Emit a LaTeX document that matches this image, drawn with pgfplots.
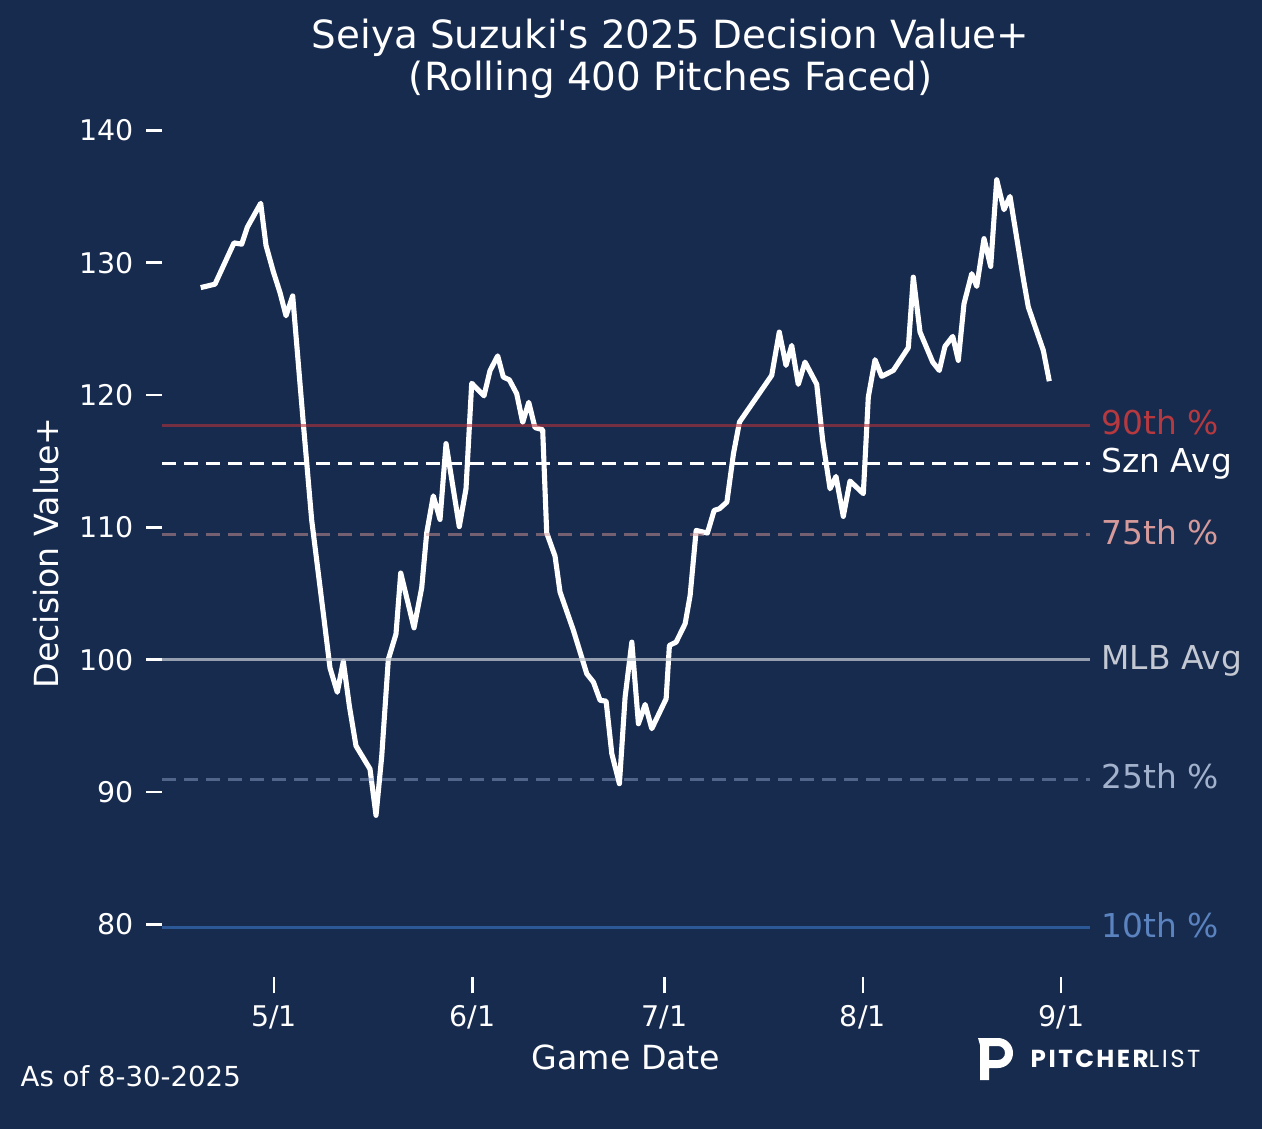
\documentclass[border=0pt]{standalone}
\usepackage{fontspec}
\setmainfont{DejaVu Sans}
\newfontfamily\pop[LetterSpace=10]{Poppins}
\usepackage{pgfplots}
\pgfplotsset{compat=1.18}
\definecolor{bg}{HTML}{172B4F}
\definecolor{c90}{HTML}{B4323C}
\definecolor{c90t}{HTML}{B5393F}
\definecolor{c75}{HTML}{D49696}
\definecolor{c75t}{HTML}{D69A9A}
\definecolor{cmlb}{HTML}{C0C6D0}
\definecolor{cmlbt}{HTML}{C3C8D2}
\definecolor{c25}{HTML}{8CA0C8}
\definecolor{c25t}{HTML}{A3B2CC}
\definecolor{c10}{HTML}{2C5898}
\definecolor{c10t}{HTML}{5A83BF}
\begin{document}
\begin{tikzpicture}
\fill[bg] (0,0) rectangle (126.2mm,112.9mm);
\begin{axis}[
  at={(16.2mm,15.17mm)}, anchor=south west,
  scale only axis, width=92.8mm, height=85.89mm,
  xmin=-17.5, xmax=127.5, ymin=76, ymax=140.907,
  axis line style={draw=none},
  xtick={0,31,61,92,123}, xticklabels={5/1,6/1,7/1,8/1,9/1},
  ytick={80,90,100,110,120,130,140},
  tick pos=left,
  tick align=outside, major tick length=1.6mm,
  tick style={white, line width=0.7pt},
  ticklabel style={font=\fontsize{8.1}{9.5}\selectfont, text=white},
  /pgf/number format/assume math mode=true,
  clip=false,
]
\addplot[white, line width=1.45pt, line join=round] coordinates {
(-11.45,128.12) (-9.22,128.38) (-6.25,131.50) (-5.05,131.40) (-4.17,132.68)
(-2.08,134.49) (-1.25,131.31) (-0.11,129.33) (0.94,127.74) (1.88,125.99)
(2.92,127.49) (4.58,117.86) (5.89,110.54) (7.70,103.52) (8.75,99.38)
(9.89,97.54) (10.83,99.87) (11.77,96.52) (12.81,93.49) (15.0,91.74)
(15.94,88.24) (16.83,92.69) (17.86,100.02) (19.06,101.94) (19.80,106.55)
(21.88,102.41) (23.08,105.44) (23.86,109.58) (24.89,112.38) (25.94,110.60)
(26.88,116.33) (28.95,110.06) (30.0,112.92) (30.89,120.89) (32.81,119.94)
(33.75,121.84) (34.95,122.96) (35.83,121.36) (36.77,121.15) (37.92,120.10)
(38.86,117.93) (39.80,119.45) (40.78,117.54) (41.98,117.38) (42.61,109.58)
(43.91,107.83) (44.69,105.12) (46.78,102.22) (48.87,98.94) (49.91,98.31)
(50.95,96.93) (51.89,96.87) (52.78,92.90) (53.97,90.63) (54.86,97.18)
(55.91,101.33) (56.94,95.16) (57.99,96.62) (59.03,94.79) (61.27,97.05)
(61.78,101.08) (62.83,101.33) (64.24,102.72) (65.02,104.86) (65.96,109.77)
(67.72,109.57) (68.77,111.28) (69.60,111.41) (70.76,111.91) (71.79,115.57)
(72.73,117.96) (77.77,121.49) (78.95,124.76) (80.0,122.24) (80.89,123.75)
(81.92,120.81) (82.97,122.49) (84.80,120.81) (85.73,116.57) (86.88,112.92)
(87.81,113.85) (88.95,110.83) (90.0,113.50) (92.08,112.55) (92.86,119.85)
(93.91,122.67) (94.95,121.41) (96.77,121.86) (99.11,123.58) (99.89,128.91)
(100.94,124.76) (102.92,122.49) (103.95,121.86) (104.84,123.68) (106.05,124.43)
(106.92,122.62) (107.81,126.90) (109.02,129.17) (109.80,128.21) (110.94,131.82)
(111.98,129.72) (112.92,136.27) (114.06,134.01) (115.0,135.01) (117.08,128.79)
(117.86,126.65) (120.20,123.38) (121.14,121.05)
};
\addplot[c90, opacity=0.6, line width=0.85pt] coordinates {(-17.5,117.71) (127.5,117.71)};
\addplot[white, line width=0.85pt, dash pattern=on 1.4mm off 0.8mm] coordinates {(-17.5,114.84) (127.5,114.84)};
\addplot[c75, opacity=0.5, line width=0.85pt, dash pattern=on 1.4mm off 0.8mm] coordinates {(-17.5,109.47) (127.5,109.47)};
\addplot[cmlb, opacity=0.75, line width=0.85pt] coordinates {(-17.5,100.02) (127.5,100.02)};
\addplot[c25, opacity=0.5, line width=0.85pt, dash pattern=on 1.4mm off 0.8mm] coordinates {(-17.5,90.96) (127.5,90.96)};
\addplot[c10, line width=0.85pt] coordinates {(-17.5,79.77) (127.5,79.77)};
\node[anchor=mid west, text=c90t, font=\fontsize{9.35}{11}\selectfont, inner sep=0pt] at (axis cs:129.2,117.71) {90th \%};
\node[anchor=mid west, text=white, font=\fontsize{9.35}{11}\selectfont, inner sep=0pt] at (axis cs:129.2,114.84) {Szn Avg};
\node[anchor=mid west, text=c75t, font=\fontsize{9.35}{11}\selectfont, inner sep=0pt] at (axis cs:129.2,109.47) {75th \%};
\node[anchor=mid west, text=cmlbt, font=\fontsize{9.35}{11}\selectfont, inner sep=0pt] at (axis cs:129.2,100.02) {MLB Avg};
\node[anchor=mid west, text=c25t, font=\fontsize{9.35}{11}\selectfont, inner sep=0pt] at (axis cs:129.2,90.96) {25th \%};
\node[anchor=mid west, text=c10t, font=\fontsize{9.35}{11}\selectfont, inner sep=0pt] at (axis cs:129.2,79.77) {10th \%};
\end{axis}
\node[font=\fontsize{11.05}{13}\selectfont, text=white] at (67.05mm,109.1mm) {Seiya Suzuki\textquotesingle s 2025 Decision Value+};
\node[font=\fontsize{11.05}{13}\selectfont, text=white] at (67.05mm,104.9mm) {(Rolling 400 Pitches Faced)};
\node[font=\fontsize{9.45}{11}\selectfont, text=white, rotate=90] at (4.6mm,57.6mm) {Decision Value+};
\node[font=\fontsize{9.45}{11}\selectfont, text=white, anchor=base, inner sep=0pt] at (62.6mm,6.0mm) {Game Date};
\node[font=\fontsize{7.85}{9}\selectfont, text=white, anchor=base west, inner sep=0pt] at (2.0mm,4.2mm) {As of 8-30-2025};
% logo
\fill[white, even odd rule] (97.8mm,9.1mm) -- (99.8mm,9.1mm) arc[start angle=90,end angle=-90,radius=1.5mm] -- (98.9mm,6.1mm) -- (98.9mm,4.9mm) -- (98.0mm,4.9mm) -- (98.0mm,8.4mm) -- cycle
  (98.9mm,8.3mm) -- (99.8mm,8.3mm) arc[start angle=90,end angle=-90,radius=0.7mm] -- (98.9mm,6.9mm) -- cycle;
\node[anchor=base west, inner sep=0pt, text=white, font=\pop\fontsize{7.0}{8}\selectfont] at (103.0mm,6.1mm) {\bfseries PITCHER\mdseries LIST};
\end{tikzpicture}
\end{document}
